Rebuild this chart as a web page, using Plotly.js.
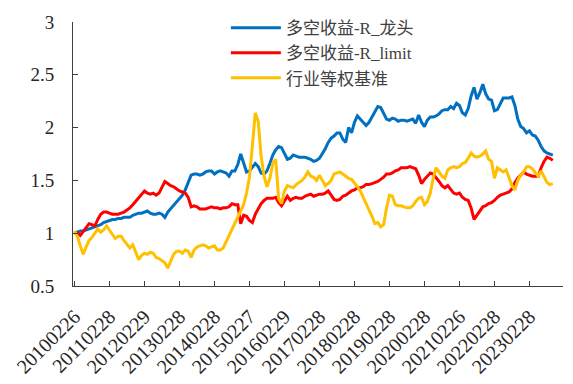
<!DOCTYPE html>
<html>
<head>
<meta charset="utf-8">
<script src="https://cdn.plot.ly/plotly-3.0.1.min.js"></script>
<style>html,body{margin:0;padding:0;background:#fff;}#chart{width:573px;height:384px;}</style>
</head>
<body>
<div id="chart"></div>
<script>
const tickLabels = ["20100226","20110228","20120229","20130228","20140228","20150227","20160229","20170228","20180228","20190228","20200228","20210226","20220228","20230228"];
const seriesNames = ["多空收益-R_龙头","多空收益-R_limit","行业等权基准"];
const longHead = [1.00,1.01,1.02,1.02,1.03,1.04,1.05,1.06,1.07,1.08,1.10,1.11,1.12,1.13,1.13,1.14,1.14,1.15,1.15,1.15,
1.17,1.18,1.19,1.19,1.20,1.21,1.19,1.18,1.18,1.19,1.18,1.15,1.20,1.23,1.26,1.29,1.33,1.36,1.41,1.48,
1.55,1.56,1.56,1.55,1.56,1.58,1.59,1.59,1.56,1.58,1.59,1.58,1.57,1.54,1.59,1.59,1.65,1.75,1.66,1.58,
1.59,1.62,1.66,1.63,1.57,1.56,1.59,1.66,1.74,1.79,1.82,1.81,1.76,1.70,1.71,1.74,1.73,1.72,1.72,1.72,
1.71,1.70,1.68,1.69,1.71,1.75,1.80,1.86,1.90,1.92,1.95,1.95,1.89,1.86,2.00,1.95,2.05,2.11,2.08,2.04,
2.02,2.05,2.10,2.15,2.20,2.19,2.14,2.08,2.07,2.09,2.08,2.06,2.07,2.07,2.06,2.07,2.08,2.04,2.12,2.05,
2.01,2.07,2.10,2.10,2.11,2.13,2.16,2.17,2.17,2.20,2.18,2.23,2.21,2.14,2.12,2.18,2.30,2.38,2.27,2.33,
2.41,2.32,2.27,2.26,2.16,2.17,2.23,2.28,2.28,2.28,2.29,2.21,2.08,2.01,1.99,1.95,1.97,1.93,1.92,1.88,
1.82,1.78,1.76,1.75,1.74];
const longLimit = [1.00,1.00,0.98,1.02,1.05,1.09,1.08,1.07,1.13,1.18,1.20,1.20,1.19,1.18,1.18,1.18,1.19,1.20,1.22,1.24,
1.27,1.30,1.33,1.37,1.40,1.38,1.37,1.38,1.36,1.38,1.44,1.49,1.47,1.45,1.44,1.42,1.40,1.39,1.38,1.34,
1.25,1.26,1.25,1.23,1.23,1.23,1.24,1.25,1.24,1.24,1.23,1.24,1.24,1.25,1.28,1.27,1.27,1.09,1.17,1.16,
1.12,1.10,1.18,1.23,1.28,1.31,1.33,1.33,1.33,1.34,1.29,1.26,1.31,1.35,1.31,1.33,1.34,1.33,1.33,1.35,
1.36,1.37,1.35,1.36,1.37,1.37,1.38,1.40,1.36,1.32,1.31,1.32,1.35,1.36,1.38,1.40,1.41,1.43,1.43,1.44,
1.46,1.46,1.47,1.48,1.49,1.51,1.53,1.56,1.56,1.57,1.59,1.60,1.62,1.62,1.62,1.63,1.62,1.61,1.55,1.47,
1.51,1.54,1.57,1.56,1.53,1.49,1.45,1.43,1.45,1.42,1.38,1.37,1.38,1.34,1.32,1.31,1.24,1.13,1.17,1.22,
1.25,1.26,1.28,1.29,1.31,1.34,1.36,1.37,1.38,1.39,1.42,1.48,1.52,1.55,1.58,1.56,1.55,1.54,1.54,1.54,
1.62,1.68,1.72,1.71,1.69];
const benchmark = [1.02,0.97,0.88,0.80,0.87,0.93,0.96,1.00,1.04,1.01,1.03,1.07,1.03,0.99,0.95,0.97,0.97,0.93,0.90,0.86,
0.89,0.82,0.75,0.79,0.81,0.80,0.82,0.81,0.77,0.76,0.74,0.72,0.67,0.73,0.80,0.83,0.83,0.81,0.84,0.83,
0.77,0.84,0.87,0.88,0.89,0.88,0.86,0.87,0.88,0.84,0.84,0.86,0.92,0.98,1.04,1.10,1.16,1.22,1.27,1.38,
1.53,1.83,2.14,2.06,1.73,1.54,1.44,1.52,1.66,1.70,1.33,1.28,1.40,1.45,1.44,1.43,1.46,1.48,1.50,1.53,
1.58,1.54,1.53,1.50,1.55,1.50,1.45,1.47,1.50,1.56,1.57,1.58,1.56,1.54,1.52,1.51,1.48,1.44,1.40,1.34,
1.29,1.22,1.16,1.09,1.10,1.06,1.08,1.24,1.36,1.35,1.27,1.26,1.26,1.25,1.24,1.24,1.26,1.30,1.33,1.34,
1.27,1.30,1.38,1.52,1.62,1.58,1.54,1.52,1.60,1.62,1.63,1.62,1.63,1.66,1.67,1.71,1.76,1.73,1.72,1.73,
1.75,1.78,1.70,1.68,1.52,1.62,1.60,1.58,1.60,1.53,1.45,1.41,1.50,1.55,1.58,1.63,1.63,1.61,1.58,1.54,
1.59,1.53,1.48,1.46,1.47];
const colors = ["#0070C0","#FF0000","#FFC000"];

const xIdx = longHead.map((_, i) => i);
const allSeries = [longHead, longLimit, benchmark];
const traces = allSeries.map((ys, k) => ({
  x: xIdx, y: ys, type: "scatter", mode: "lines", name: seriesNames[k],
  line: {color: colors[k], width: 3}
}));

const serif = "'Liberation Serif', 'Times New Roman', serif";
const layout = {
  width: 573, height: 384,
  margin: {l: 73, r: 10, t: 15, b: 98},
  paper_bgcolor: "#fff", plot_bgcolor: "#fff",
  showlegend: true,
  legend: {
    x: 0.312, y: 1.045, xanchor: "left", yanchor: "top",
    bgcolor: "rgba(0,0,0,0)", itemwidth: 50, tracegroupgap: 0,
    font: {family: "'Liberation Serif', 'Noto Sans CJK SC', serif", size: 17, color: "#404040"}
  },
  xaxis: {
    range: [-0.5, 167.5],
    tickvals: tickLabels.map((_, k) => k * 12),
    ticktext: tickLabels,
    tickangle: -45,
    ticks: "inside", ticklen: 5, tickcolor: "#404040",
    showline: true, linecolor: "#404040", linewidth: 1,
    showgrid: false, zeroline: false,
    ticklabelstandoff: 10,
    tickfont: {family: serif, size: 20, color: "#262626"}
  },
  yaxis: {
    range: [0.5, 3], dtick: 0.5, tick0: 0.5,
    ticks: "inside", ticklen: 5, tickcolor: "#404040",
    showline: true, linecolor: "#404040", linewidth: 1,
    showgrid: false, zeroline: false,
    ticklabelstandoff: 14,
    tickfont: {family: serif, size: 19, color: "#262626"}
  }
};
Plotly.newPlot("chart", traces, layout, {staticPlot: true, displayModeBar: false});
</script>
</body>
</html>
